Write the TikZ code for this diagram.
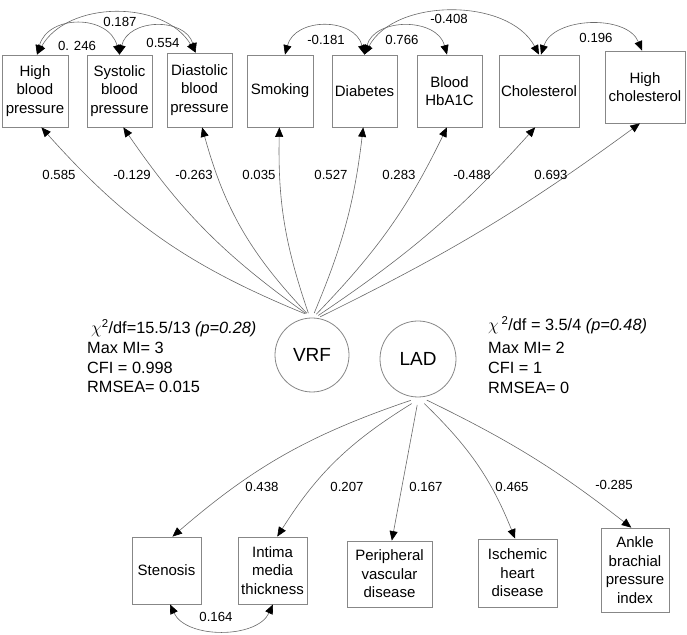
\documentclass[tikz,border=0pt]{standalone}
\usepackage{fontspec}
\setmainfont{Liberation Sans}
\usetikzlibrary{arrows.meta,calc}
\definecolor{lc}{RGB}{105,105,105}
\definecolor{bc}{RGB}{135,135,135}
\begin{document}
\begin{tikzpicture}[x=1pt,y=1pt,
 >={Triangle[length=9.5pt,width=8pt,color=black]},
 box/.style={draw=bc, line width=0.8pt, align=center, inner sep=1pt, font=\fontsize{15}{18.5}\selectfont},
 lv/.style={draw=bc, line width=0.8pt, circle, inner sep=0pt, font=\fontsize{19}{20}\selectfont},
 load/.style={draw=lc, line width=0.6pt, ->},
 cov/.style={draw=lc, line width=0.6pt, <->},
 lab/.style={font=\fontsize{13.2}{15}\selectfont, inner sep=0pt},
 stat/.style={font=\fontsize{16.3}{20}\selectfont, inner sep=0pt, anchor=base west}
]
\useasboundingbox (0,0) rectangle (687,634);

% top observed variables
\node[box, minimum width=66pt, minimum height=72pt] (hbp) at (35,543) {High\\blood\\pressure};
\node[box, minimum width=65pt, minimum height=72pt] (sbp) at (119.5,543) {Systolic\\blood\\pressure};
\node[box, minimum width=65pt, minimum height=74pt] (dbp) at (199.5,544) {Diastolic\\blood\\pressure};
\node[box, minimum width=66pt, minimum height=72pt] (smk) at (280,543) {Smoking};
\node[box, minimum width=65pt, minimum height=72pt] (dia) at (364.5,543) {Diabetes};
\node[box, minimum width=65pt, minimum height=72pt] (hba) at (449.5,543) {Blood\\HbA1C};
\node[box, minimum width=80pt, minimum height=72pt] (chol) at (539,543) {Cholesterol};
\node[box, minimum width=80pt, minimum height=72pt] (hchol) at (645,547) {High\\cholesterol};

% latent variables
\node[lv, minimum size=74pt] (vrf) at (312,279) {VRF};
\node[lv, minimum size=76pt] (lad) at (418,275) {LAD};

% bottom observed variables
\node[box, minimum width=69pt, minimum height=67pt] (sten) at (166.5,63.5) {Stenosis};
\node[box, minimum width=69pt, minimum height=67pt] (imt) at (272.5,63.5) {Intima\\media\\thickness};
\node[box, minimum width=85pt, minimum height=66pt] (pvd) at (389.5,60) {Peripheral\\vascular\\disease};
\node[box, minimum width=79pt, minimum height=68pt] (ihd) at (517.5,61) {Ischemic\\heart\\disease};
\node[box, minimum width=68pt, minimum height=84pt] (abpi) at (635,64) {Ankle\\brachial\\pressure\\index};

% loadings VRF
\draw[load] ($(vrf.center)+(100:42)$) to[bend left=13] (hbp.-80);
\draw[load] ($(vrf.center)+(98.5:42)$) to[bend left=10] (sbp.-84);
\draw[load] ($(vrf.center)+(97:42)$) to[bend left=14] (dbp.-86);
\draw[load] ($(vrf.center)+(95:42)$) to[bend left=10] (smk.-91);
\draw[load] ($(vrf.center)+(87:42)$) to[bend right=8] (dia.-92);
\draw[load] ($(vrf.center)+(84:41)$) to[bend right=9] (hba.-94);
\draw[load] ($(vrf.center)+(81:40)$) to[bend right=7] (chol.-96);
\draw[load] ($(vrf.center)+(78:39)$) to[bend right=5] (hchol.-98);

% loadings LAD
\draw[load] ($(lad.center)+(-100:42)$) to[bend right=11] (sten.80);
\draw[load] ($(lad.center)+(-98:45)$) to[bend right=13] (imt.82);
\draw[load] ($(lad.center)+(-91:46)$) to (pvd.86);
\draw[load] ($(lad.center)+(-82:45)$) to[bend left=12] (ihd.94);
\draw[load] ($(lad.center)+(-78:42)$) to[bend left=6] (abpi.95);

% covariances
\draw[cov] ([xshift=2pt]hbp.north) to[bend left=60] ([xshift=-4pt]dbp.north);
\draw[cov] ([xshift=2pt]hbp.north) to[bend left=75, looseness=1.3] (sbp.north);
\draw[cov] (sbp.north) to[bend left=75, looseness=1.25] ([xshift=-4pt]dbp.north);
\draw[cov] ([xshift=5pt]smk.north) to[bend left=75, looseness=1.25] (dia.north);
\draw[cov] (dia.north) to[bend left=75, looseness=1.2] ([xshift=-2.5pt]hba.north);
\draw[cov] (dia.north) to[bend left=62, looseness=0.95] (chol.north);
\draw[cov] ([xshift=2pt]chol.north) to[bend left=70] ([xshift=-3pt]hchol.north);
\draw[cov] ([xshift=3.5pt]sten.south) to[bend right=65, looseness=0.95] ([xshift=0.5pt]imt.south);

% loading labels
\node[lab] (t1) at (59,459) {0.585};
\node[lab] (t2) at (132,459) {-0.129};
\node[lab] (t3) at (194,459) {-0.263};
\node[lab] (t4) at (259,459) {0.035};
\node[lab] (t5) at (331,459) {0.527};
\node[lab] (t6) at (399,459) {0.283};
\node[lab] (t7) at (472,459) {-0.488};
\node[lab] (t8) at (551,459) {0.693};
\node[lab] (b1) at (262,147) {0.438};
\node[lab] (b2) at (347,147) {0.207};
\node[lab] (b3) at (426,147) {0.167};
\node[lab] (b4) at (512,147) {0.465};
\node[lab] (b5) at (614,149) {-0.285};

% covariance labels
\node[lab] (c1) at (120,612) {0.187};
\node[lab] (c2) at (77,588) {0. 246};
\node[lab] (c3) at (163,591) {0.554};
\node[lab] (c4) at (326,594) {-0.181};
\node[lab] (c5) at (402,594) {0.766};
\node[lab] (c6) at (449,615) {-0.408};
\node[lab] (c7) at (596,596) {0.196};
\node[lab] (c8) at (216,17) {0.164};

% fit statistics
\node[stat] (sl1) at (91,300) {$\chi$\textsuperscript{2}/df=15.5/13 \textit{(p=0.28)}};
\node[stat] (sl2) at (87,280) {Max MI= 3};
\node[stat] (sl3) at (87,260) {CFI = 0.998};
\node[stat] (sl4) at (87,241) {RMSEA= 0.015};
\node[stat] (sr1) at (488,303) {$\chi$\,\textsuperscript{2}/df = 3.5/4 \textit{(p=0.48)}};
\node[stat] (sr2) at (488,280) {Max MI= 2};
\node[stat] (sr3) at (488,260) {CFI = 1};
\node[stat] (sr4) at (488,240) {RMSEA= 0};
\end{tikzpicture}
\end{document}
